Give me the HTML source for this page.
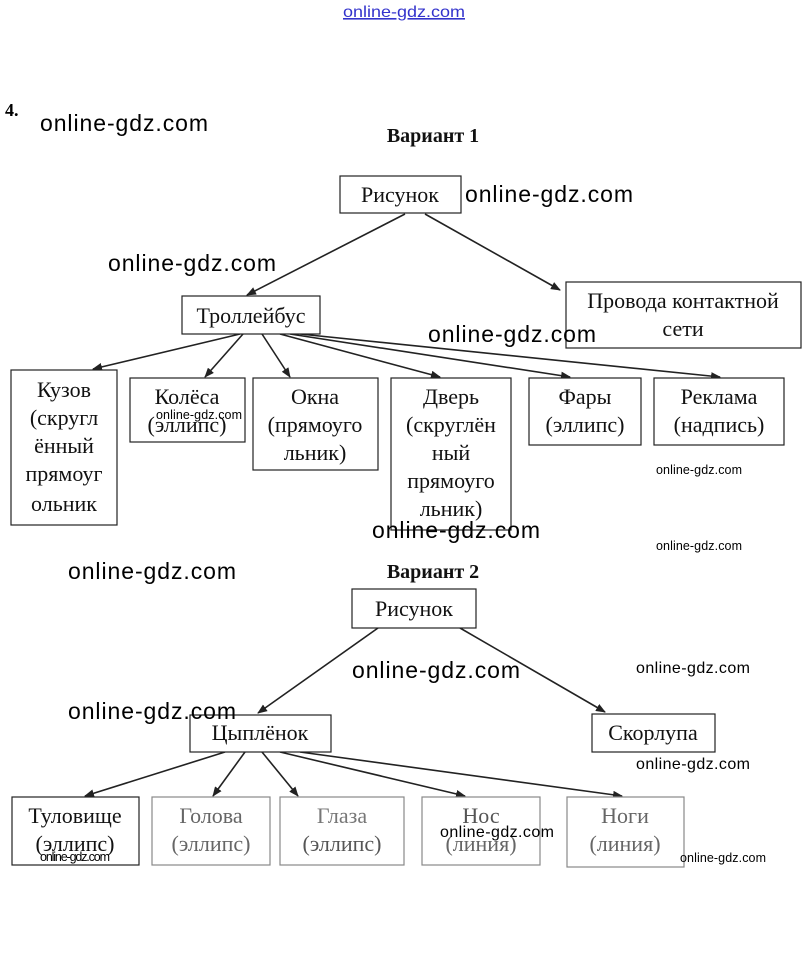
<!DOCTYPE html>
<html><head><meta charset="utf-8"><style>
body{margin:0;background:#fff;}
svg{display:block}
.s{font-family:"Liberation Serif",serif;font-size:22px;fill:#111;text-anchor:middle}
.w{font-family:"Liberation Sans",sans-serif;font-size:23px;fill:#000}
.ws{font-family:"Liberation Sans",sans-serif;font-size:12.5px;fill:#000}
.wm{font-family:"Liberation Sans",sans-serif;font-size:16px;fill:#000}
rect{fill:#fff;stroke:#222;stroke-width:1.2}
line{stroke:#222;stroke-width:1.6}
</style></head><body>
<svg width="808" height="962" viewBox="0 0 808 962" xmlns="http://www.w3.org/2000/svg">
<defs><marker id="a" markerWidth="10" markerHeight="8" refX="9" refY="4" orient="auto" markerUnits="userSpaceOnUse"><path d="M0,0 L10,4 L0,8 z" fill="#222"/></marker></defs>
<rect x="0" y="0" width="808" height="962" style="fill:#fff;stroke:none"/>
<text x="343" y="17" textLength="122" lengthAdjust="spacingAndGlyphs" style="font-family:'Liberation Sans',sans-serif;font-size:16px;fill:#33c;text-decoration:underline">online-gdz.com</text>
<text x="5" y="116" style="font-family:'Liberation Serif',serif;font-weight:bold;font-size:18px">4.</text>
<text x="433" y="142" class="s" style="font-weight:bold;font-size:20px">Вариант 1</text>

<line x1="405" y1="214" x2="247" y2="295" marker-end="url(#a)"/>
<line x1="425" y1="214" x2="560" y2="290" marker-end="url(#a)"/>
<line x1="240" y1="334" x2="93" y2="369" marker-end="url(#a)"/>
<line x1="243" y1="334" x2="205" y2="377" marker-end="url(#a)"/>
<line x1="262" y1="334" x2="290" y2="377" marker-end="url(#a)"/>
<line x1="280" y1="334" x2="440" y2="377" marker-end="url(#a)"/>
<line x1="290" y1="334" x2="570" y2="377" marker-end="url(#a)"/>
<line x1="300" y1="334" x2="720" y2="377" marker-end="url(#a)"/>

<rect x="340" y="176" width="121" height="37"/><text x="400" y="202" class="s">Рисунок</text>
<rect x="182" y="296" width="138" height="38"/><text x="251" y="323" class="s">Троллейбус</text>
<rect x="566" y="282" width="235" height="66"/><text x="683" y="308" class="s">Провода контактной</text><text x="683" y="336" class="s">сети</text>

<rect x="11" y="370" width="106" height="155"/>
<text x="64" y="397" class="s">Кузов</text><text x="64" y="425" class="s">(скругл</text><text x="64" y="453" class="s">ённый</text><text x="64" y="481" class="s">прямоуг</text><text x="64" y="511" class="s">ольник</text>
<rect x="130" y="378" width="115" height="64"/><text x="187" y="404" class="s">Колёса</text><text x="187" y="432" class="s">(эллипс)</text>
<rect x="253" y="378" width="125" height="92"/><text x="315" y="404" class="s">Окна</text><text x="315" y="432" class="s">(прямоуго</text><text x="315" y="460" class="s">льник)</text>
<rect x="391" y="378" width="120" height="152"/><text x="451" y="404" class="s">Дверь</text><text x="451" y="432" class="s">(скруглён</text><text x="451" y="460" class="s">ный</text><text x="451" y="488" class="s">прямоуго</text><text x="451" y="516" class="s">льник)</text>
<rect x="529" y="378" width="112" height="67"/><text x="585" y="404" class="s">Фары</text><text x="585" y="432" class="s">(эллипс)</text>
<rect x="654" y="378" width="130" height="67"/><text x="719" y="404" class="s">Реклама</text><text x="719" y="432" class="s">(надпись)</text>

<text x="433" y="578" class="s" style="font-weight:bold;font-size:20px">Вариант 2</text>
<line x1="378" y1="628" x2="258" y2="713" marker-end="url(#a)"/>
<line x1="460" y1="628" x2="605" y2="712" marker-end="url(#a)"/>
<line x1="225" y1="752" x2="85" y2="796" marker-end="url(#a)"/>
<line x1="245" y1="752" x2="213" y2="796" marker-end="url(#a)"/>
<line x1="262" y1="752" x2="298" y2="796" marker-end="url(#a)"/>
<line x1="280" y1="752" x2="465" y2="796" marker-end="url(#a)"/>
<line x1="300" y1="752" x2="622" y2="796" marker-end="url(#a)"/>

<rect x="352" y="589" width="124" height="39"/><text x="414" y="616" class="s">Рисунок</text>
<rect x="190" y="715" width="141" height="37"/><text x="260" y="740" class="s">Цыплёнок</text>
<rect x="592" y="714" width="123" height="38"/><text x="653" y="740" class="s">Скорлупа</text>

<rect x="12" y="797" width="127" height="68"/><text x="75" y="823" class="s">Туловище</text><text x="75" y="851" class="s">(эллипс)</text>
<rect x="152" y="797" width="118" height="68" style="stroke:#888"/><text x="211" y="823" class="s" style="fill:#666">Голова</text><text x="211" y="851" class="s" style="fill:#666">(эллипс)</text>
<rect x="280" y="797" width="124" height="68" style="stroke:#888"/><text x="342" y="823" class="s" style="fill:#777">Глаза</text><text x="342" y="851" class="s" style="fill:#555">(эллипс)</text>
<rect x="422" y="797" width="118" height="68" style="stroke:#888"/><text x="481" y="823" class="s" style="fill:#555">Нос</text><text x="481" y="851" class="s" style="fill:#666">(линия)</text>
<rect x="567" y="797" width="117" height="70" style="stroke:#888"/><text x="625" y="823" class="s" style="fill:#666">Ноги</text><text x="625" y="851" class="s" style="fill:#666">(линия)</text>

<text x="40" y="131" class="w" textLength="168">online-gdz.com</text>
<text x="465" y="202" class="w" textLength="168">online-gdz.com</text>
<text x="108" y="271" class="w" textLength="168">online-gdz.com</text>
<text x="428" y="342" class="w" textLength="168">online-gdz.com</text>
<text x="156" y="419" class="ws" textLength="86">online-gdz.com</text>
<text x="656" y="474" class="ws" textLength="86">online-gdz.com</text>
<text x="372" y="538" class="w" textLength="168">online-gdz.com</text>
<text x="656" y="550" class="ws" textLength="86">online-gdz.com</text>
<text x="68" y="579" class="w" textLength="168">online-gdz.com</text>
<text x="352" y="678" class="w" textLength="168">online-gdz.com</text>
<text x="636" y="673" class="wm" textLength="114">online-gdz.com</text>
<text x="68" y="719" class="w" textLength="168">online-gdz.com</text>
<text x="636" y="769" class="wm" textLength="114">online-gdz.com</text>
<text x="440" y="837" class="wm" textLength="114">online-gdz.com</text>
<text x="40" y="861" class="ws" textLength="70">online-gdz.com</text>
<text x="680" y="862" class="ws" textLength="86">online-gdz.com</text>
</svg>
</body></html>
